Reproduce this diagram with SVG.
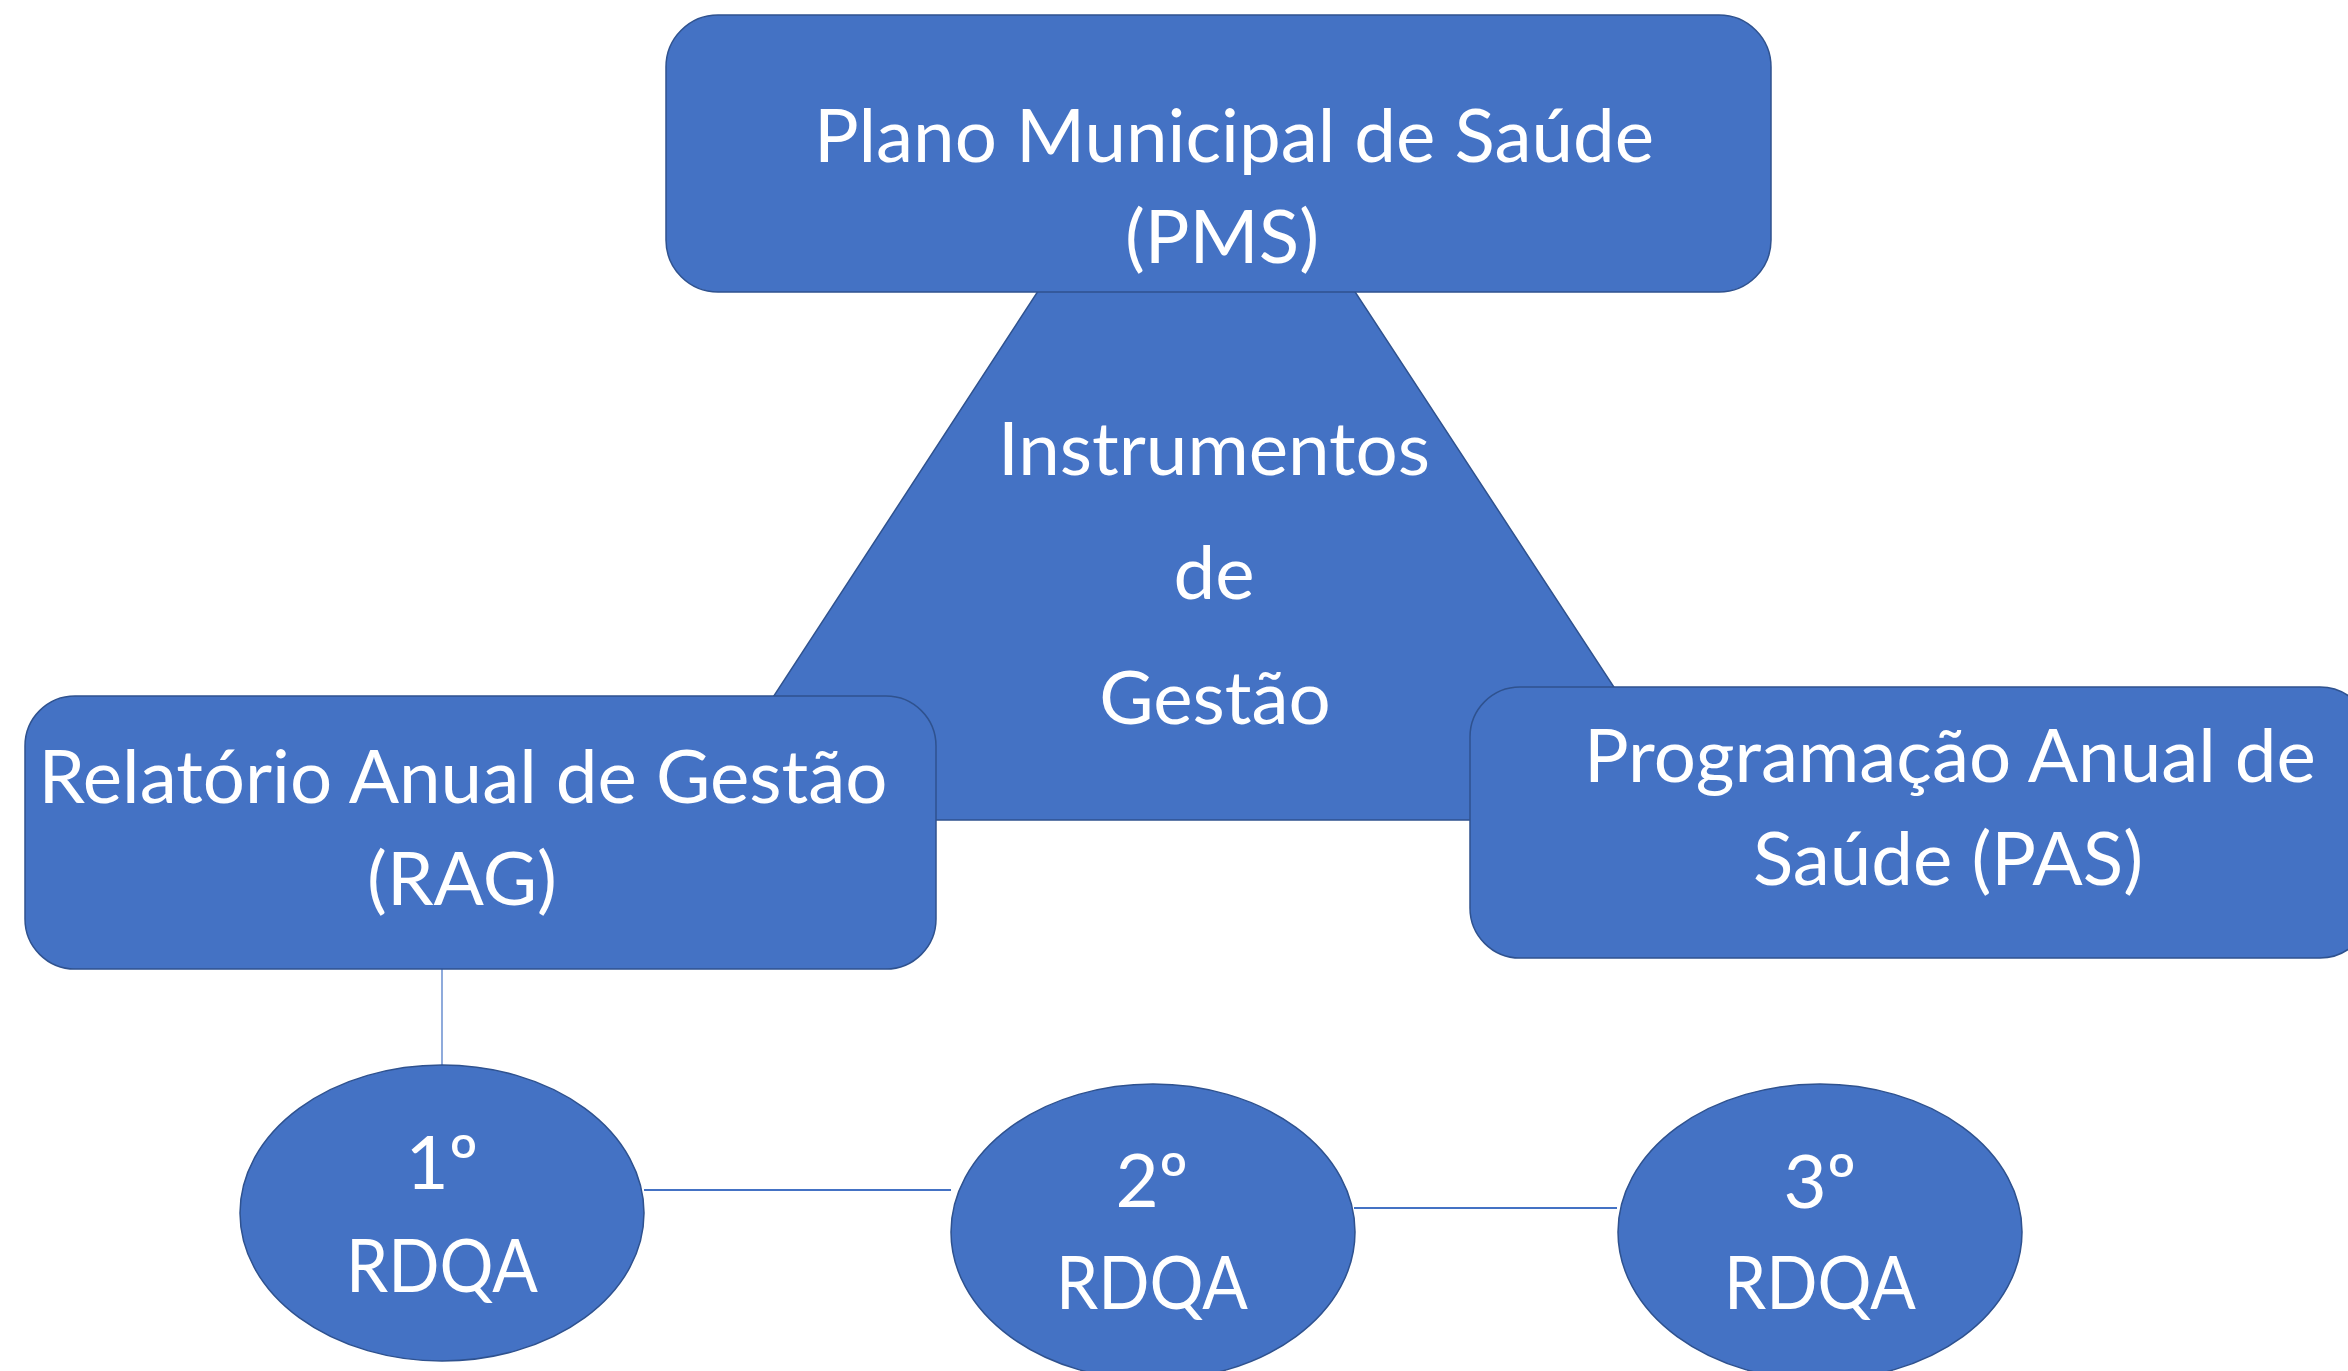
<svg xmlns="http://www.w3.org/2000/svg" width="2348" height="1371" viewBox="0 0 2348 1371">
<style>
.shape{fill:#4472C4;stroke:#2F528F;stroke-width:1.5}
.lbl{font-family:Lato,"Liberation Sans",sans-serif;font-size:74.5px;fill:#FFFFFF;text-anchor:middle}
.conn{stroke:#4472C4;fill:none}
</style>
<rect width="2348" height="1371" fill="#FFFFFF"/>
<g id="connectors">
<line class="conn" x1="442" y1="969" x2="442" y2="1066" stroke-width="1.2"/>
<line class="conn" x1="644" y1="1190" x2="951" y2="1190" stroke-width="2"/>
<line class="conn" x1="1354" y1="1208" x2="1617" y2="1208" stroke-width="2"/>
</g>
<g id="node-instrumentos">
<polygon class="shape" points="1196,49 693,820 1701,820"/>
<text class="lbl" x="1214" y="475">Instrumentos</text>
<text class="lbl" x="1214" y="599">de</text>
<text class="lbl" x="1215" y="724">Gestão</text>
</g>
<g id="node-pms">
<rect class="shape" x="666" y="15" width="1105" height="277" rx="52" ry="52"/>
<text class="lbl" x="1234" y="162">Plano Municipal de Saúde</text>
<text class="lbl" x="1222" y="263">(PMS)</text>
</g>
<g id="node-rag">
<rect class="shape" x="25" y="696" width="911" height="273" rx="50" ry="50"/>
<text class="lbl" x="463" y="803">Relatório Anual de Gestão</text>
<text class="lbl" x="462" y="905">(RAG)</text>
</g>
<g id="node-pas">
<rect class="shape" x="1470" y="687" width="900" height="271" rx="50" ry="50"/>
<text class="lbl" x="1950" y="782">Programação Anual de</text>
<text class="lbl" x="1948" y="885">Saúde (PAS)</text>
</g>
<g id="node-rdqa1">
<ellipse class="shape" cx="442" cy="1213" rx="202" ry="148"/>
<text class="lbl" x="442" y="1189">1º</text>
<text class="lbl" x="442" y="1292" textLength="192" lengthAdjust="spacingAndGlyphs">RDQA</text>
</g>
<g id="node-rdqa2">
<ellipse class="shape" cx="1153" cy="1232" rx="202" ry="148"/>
<text class="lbl" x="1152" y="1207">2º</text>
<text class="lbl" x="1152" y="1309" textLength="192" lengthAdjust="spacingAndGlyphs">RDQA</text>
</g>
<g id="node-rdqa3">
<ellipse class="shape" cx="1820" cy="1232" rx="202" ry="148"/>
<text class="lbl" x="1820" y="1208">3º</text>
<text class="lbl" x="1820" y="1309" textLength="192" lengthAdjust="spacingAndGlyphs">RDQA</text>
</g>
</svg>
